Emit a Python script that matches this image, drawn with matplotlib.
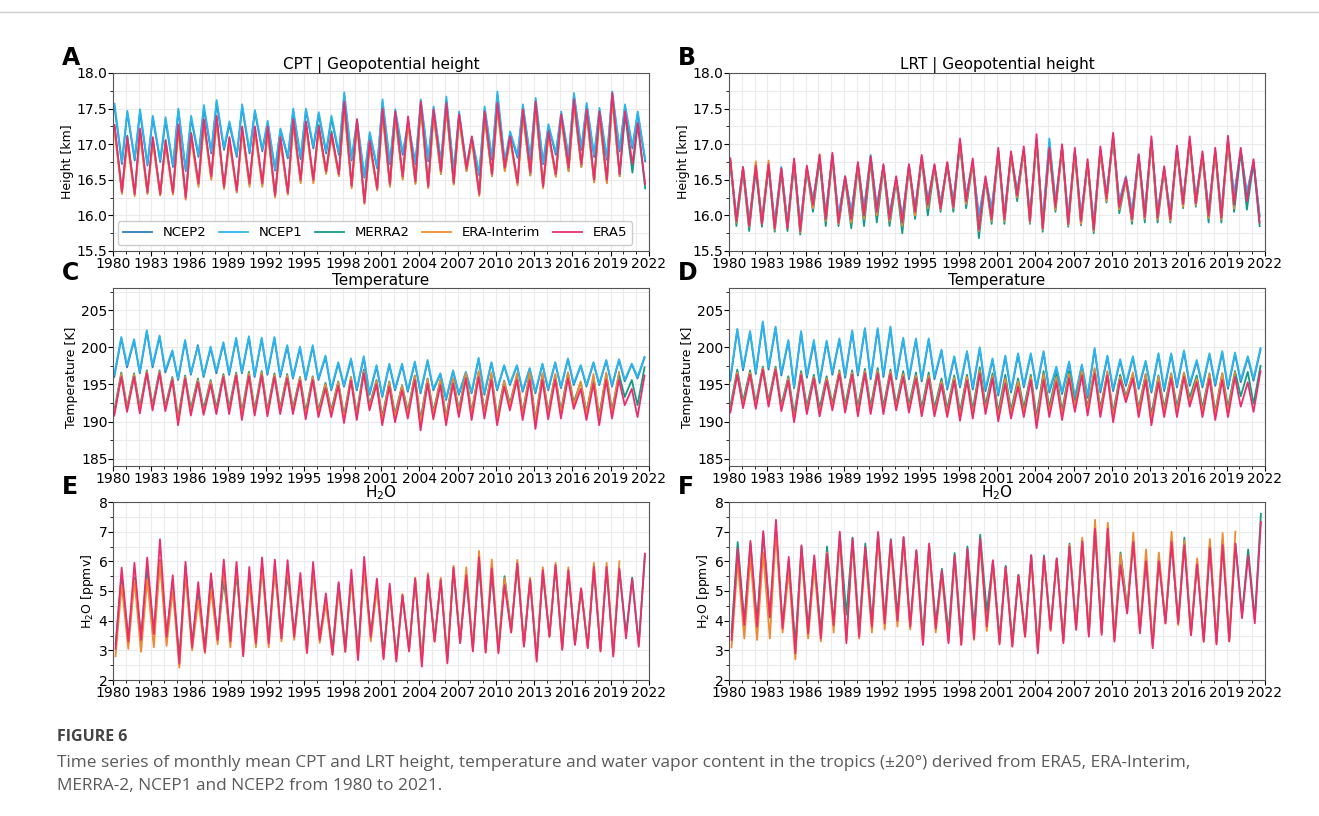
import numpy as np
import matplotlib.pyplot as plt
from matplotlib.lines import Line2D
from matplotlib.ticker import MultipleLocator, AutoMinorLocator

plt.rcParams["font.family"] = ["DejaVu Sans"]

# ---- seasonal maxima / minima per calendar year (1980-2021; ERA-Interim to 2019) ----
# A: CPT geopotential height [km]
cpt_z_ncep2_hi = [17.52,17.44,17.45,17.37,17.33,17.47,17.36,17.50,17.58,17.28,17.52,17.45,17.30,17.20,17.46,17.47,17.42,17.36,17.68,17.31,17.14,17.58,17.45,17.27,17.59,17.49,17.62,17.42,17.07,17.49,17.69,17.15,17.52,17.60,17.25,17.42,17.68,17.54,17.47,17.70,17.52,17.43]
cpt_z_ncep2_lo = [16.72,16.77,16.70,16.75,16.68,16.62,16.82,16.87,16.92,16.82,16.87,16.90,16.63,16.80,16.79,16.94,16.87,16.85,16.77,16.53,16.66,16.72,16.85,16.72,16.76,16.73,16.60,16.68,16.56,16.78,16.73,16.81,16.78,16.72,16.85,16.80,16.92,16.82,16.78,16.90,16.94,16.76]
cpt_z_ncep1_hi = [17.57,17.47,17.49,17.40,17.38,17.50,17.40,17.55,17.62,17.32,17.56,17.48,17.33,17.22,17.50,17.50,17.45,17.40,17.73,17.35,17.17,17.63,17.49,17.30,17.63,17.53,17.67,17.46,17.10,17.53,17.74,17.18,17.56,17.65,17.28,17.46,17.72,17.58,17.51,17.74,17.56,17.46]
cpt_z_ncep1_lo = [16.75,16.80,16.72,16.78,16.70,16.64,16.85,16.90,16.95,16.85,16.90,16.93,16.65,16.83,16.82,16.97,16.90,16.88,16.80,16.55,16.68,16.74,16.88,16.74,16.79,16.76,16.62,16.70,16.58,16.81,16.76,16.84,16.81,16.74,16.88,16.83,16.95,16.85,16.81,16.93,16.97,16.79]
cpt_z_merra2_hi = [17.25,17.12,17.20,17.08,17.06,17.25,17.16,17.33,17.37,17.08,17.22,17.22,17.20,17.08,17.32,17.30,17.27,17.18,17.55,17.30,17.02,17.45,17.40,17.35,17.55,17.44,17.52,17.38,17.08,17.40,17.52,17.10,17.45,17.55,17.15,17.38,17.58,17.44,17.40,17.66,17.42,17.28]
cpt_z_merra2_lo = [16.32,16.30,16.31,16.29,16.30,16.26,16.43,16.52,16.40,16.33,16.43,16.43,16.28,16.30,16.48,16.48,16.60,16.56,16.40,16.20,16.36,16.42,16.52,16.45,16.40,16.58,16.45,16.62,16.30,16.55,16.63,16.45,16.56,16.40,16.55,16.62,16.68,16.47,16.46,16.55,16.60,16.38]
cpt_z_eraint_hi = [17.18,17.02,17.12,17.02,16.98,17.20,17.08,17.28,17.32,17.02,17.18,17.18,17.16,17.02,17.28,17.25,17.20,17.10,17.50,17.28,16.98,17.42,17.38,17.30,17.52,17.40,17.50,17.34,17.05,17.38,17.50,17.06,17.42,17.52,17.12,17.36,17.56,17.42,17.38,17.64]
cpt_z_eraint_lo = [16.30,16.27,16.30,16.28,16.29,16.22,16.40,16.50,16.37,16.32,16.40,16.40,16.25,16.29,16.45,16.45,16.58,16.55,16.38,16.16,16.35,16.40,16.50,16.44,16.38,16.58,16.43,16.62,16.27,16.55,16.62,16.42,16.56,16.38,16.54,16.62,16.68,16.46,16.45,16.55]
cpt_z_era5_hi = [17.27,17.10,17.22,17.10,17.05,17.28,17.15,17.35,17.40,17.10,17.25,17.25,17.25,17.10,17.35,17.32,17.25,17.15,17.60,17.35,17.05,17.50,17.46,17.39,17.60,17.49,17.58,17.42,17.11,17.46,17.58,17.11,17.49,17.60,17.18,17.42,17.63,17.49,17.46,17.72,17.46,17.30]
cpt_z_era5_lo = [16.33,16.30,16.33,16.30,16.32,16.25,16.45,16.55,16.40,16.35,16.45,16.45,16.28,16.32,16.50,16.50,16.62,16.58,16.42,16.18,16.38,16.44,16.55,16.48,16.41,16.62,16.46,16.66,16.30,16.58,16.67,16.46,16.60,16.41,16.58,16.67,16.72,16.50,16.50,16.58,16.72,16.44]

# B: LRT geopotential height [km]
lrt_z_ncep2_hi = [16.73,16.66,16.66,16.70,16.65,16.74,16.64,16.78,16.83,16.53,16.70,16.82,16.68,16.50,16.68,16.80,16.68,16.70,17.00,16.72,16.50,16.88,16.83,16.90,17.03,17.02,16.93,16.88,16.72,16.90,17.08,16.53,16.83,17.03,16.64,16.92,17.03,16.84,16.88,17.03,16.90,16.74]
lrt_z_ncep2_lo = [15.96,15.90,15.93,15.88,15.88,15.86,16.20,16.00,15.98,16.03,16.08,16.10,16.00,15.96,16.08,16.20,16.16,16.18,16.26,15.98,16.08,16.00,16.33,15.98,15.90,16.18,15.96,15.98,15.88,16.28,16.18,16.03,16.04,16.03,16.00,16.20,16.23,16.06,16.03,16.28,16.30,15.98]
lrt_z_ncep1_hi = [16.75,16.68,16.68,16.72,16.68,16.76,16.66,16.80,16.85,16.55,16.72,16.85,16.70,16.52,16.70,16.82,16.70,16.72,17.02,16.75,16.52,16.90,16.85,16.92,17.05,17.08,16.95,16.90,16.74,16.92,17.10,16.55,16.85,17.05,16.66,16.94,17.05,16.86,16.90,17.05,16.92,16.76]
lrt_z_ncep1_lo = [15.98,15.92,15.95,15.90,15.90,15.88,16.22,16.02,16.00,16.05,16.10,16.12,16.02,15.98,16.10,16.22,16.18,16.20,16.28,16.00,16.10,16.02,16.35,16.00,15.92,16.20,15.98,16.00,15.90,16.30,16.20,16.05,16.06,16.05,16.02,16.22,16.25,16.08,16.05,16.30,16.32,16.00]
lrt_z_merra2_hi = [16.76,16.62,16.64,16.68,16.60,16.72,16.64,16.78,16.82,16.50,16.68,16.76,16.66,16.48,16.68,16.80,16.68,16.72,17.02,16.74,16.50,16.90,16.84,16.92,17.05,16.90,16.95,16.88,16.72,16.90,17.10,16.50,16.82,17.05,16.64,16.92,17.05,16.85,16.90,17.05,16.90,16.74]
lrt_z_merra2_lo = [15.85,15.78,15.84,15.77,15.78,15.73,16.05,15.85,15.85,15.82,15.85,15.90,15.85,15.75,15.95,16.00,16.05,16.05,16.10,15.68,15.88,15.88,16.20,15.88,15.77,16.05,15.84,15.86,15.75,16.18,16.03,15.88,15.90,15.90,15.90,16.10,16.12,15.90,15.90,16.05,16.08,15.85]
lrt_z_eraint_hi = [16.80,16.66,16.76,16.77,16.65,16.78,16.68,16.86,16.85,16.53,16.72,16.80,16.70,16.52,16.70,16.82,16.70,16.74,17.05,16.76,16.52,16.92,16.86,16.92,17.08,16.92,16.96,16.90,16.75,16.92,17.12,16.50,16.82,17.06,16.66,16.94,17.06,16.86,16.90,17.06]
lrt_z_eraint_lo = [15.90,15.84,15.88,15.80,15.82,15.76,16.10,15.92,15.88,15.90,15.95,16.00,15.92,15.85,16.00,16.10,16.08,16.10,16.16,15.78,15.92,15.92,16.25,15.90,15.80,16.08,15.86,15.88,15.78,16.20,16.08,15.92,15.95,15.94,15.92,16.12,16.14,15.96,15.94,16.10]
lrt_z_era5_hi = [16.80,16.68,16.70,16.72,16.66,16.80,16.70,16.85,16.88,16.55,16.75,16.83,16.72,16.55,16.72,16.85,16.72,16.75,17.08,16.80,16.55,16.95,16.90,16.97,17.14,16.95,17.00,16.95,16.79,16.97,17.16,16.53,16.86,17.11,16.69,16.98,17.11,16.90,16.95,17.12,16.95,16.79]
lrt_z_era5_lo = [15.92,15.85,15.88,15.82,15.82,15.78,16.15,15.95,15.90,15.95,16.00,16.05,15.95,15.90,16.05,16.15,16.10,16.12,16.20,15.80,15.95,15.95,16.28,15.92,15.82,16.12,15.88,15.92,15.80,16.24,16.12,15.95,15.98,15.97,15.95,16.16,16.17,16.00,15.97,16.15,16.20,15.90]

# C: CPT temperature [K]
cpt_t_ncep2_hi = [201.2,200.9,202.1,201.4,199.4,200.8,200.3,199.9,200.5,201.1,201.3,201.1,201.2,200.1,199.9,200.1,198.7,197.8,198.3,198.6,197.4,197.6,197.6,197.9,198.1,196.4,196.8,196.6,198.4,197.9,197.5,197.5,197.1,197.7,197.9,198.4,197.5,197.9,198.2,198.3,197.7,198.6]
cpt_t_ncep2_lo = [196.0,197.3,196.5,197.3,196.6,195.6,196.3,196.0,196.5,196.3,196.5,196.0,196.3,196.0,195.8,195.6,195.6,194.2,194.7,194.2,193.6,193.3,194.2,194.0,193.8,194.2,192.9,193.6,193.8,193.6,194.2,194.9,194.0,193.8,194.2,194.5,194.9,194.7,194.9,194.7,195.4,195.8]
cpt_t_ncep1_hi = [201.4,201.1,202.3,201.6,199.6,201.0,200.1,200.1,200.7,201.3,201.5,201.3,201.4,200.3,200.1,200.3,198.9,198.0,198.5,198.8,197.6,197.8,197.8,198.1,198.3,196.5,196.9,196.7,198.6,198.0,197.6,197.6,197.2,197.8,198.0,198.5,197.6,198.0,198.3,198.4,197.8,198.7]
cpt_t_ncep1_lo = [196.3,197.6,196.7,197.6,196.9,195.8,196.5,196.2,196.8,196.5,196.7,196.2,196.5,196.2,196.0,195.8,195.8,194.4,194.9,194.4,193.8,193.5,194.4,194.2,194.0,194.4,193.1,193.8,194.0,193.8,194.4,195.1,194.2,194.0,194.4,194.7,195.1,194.9,195.1,194.9,195.6,196.0]
cpt_t_merra2_hi = [196.6,196.5,196.9,196.9,196.0,196.2,195.8,195.6,196.4,196.6,196.7,196.8,196.5,196.4,196.0,196.1,195.2,195.4,196.0,197.0,195.6,195.4,194.9,196.2,195.8,195.6,195.8,196.4,196.6,196.3,195.5,196.2,196.4,196.3,196.3,196.6,195.3,195.9,196.4,196.4,195.6,197.3]
cpt_t_merra2_lo = [191.5,191.9,191.9,192.2,192.0,190.5,191.7,191.7,191.8,191.9,191.3,191.6,191.5,191.8,191.8,191.3,191.5,191.5,190.8,191.1,192.2,190.6,191.0,191.4,190.3,191.3,190.6,191.6,191.3,191.4,190.6,192.4,191.2,190.3,191.3,191.4,192.6,191.3,190.8,191.5,193.3,192.2]
cpt_t_eraint_hi = [196.4,196.3,196.7,196.7,195.8,196.0,195.6,195.4,196.2,196.4,196.5,196.6,196.3,196.2,195.9,196.0,195.0,195.3,195.9,196.8,195.5,195.3,194.8,196.2,195.7,195.6,195.8,196.5,196.8,196.6,195.4,196.5,196.6,196.5,196.4,196.6,195.4,196.4,196.6,196.7]
cpt_t_eraint_lo = [191.0,191.6,191.5,191.8,191.7,190.1,191.2,191.2,191.3,191.4,190.8,191.2,191.1,191.4,191.4,190.8,191.1,191.1,190.4,190.7,191.8,190.2,190.6,191.0,189.8,190.9,190.2,191.2,190.9,191.0,190.2,192.0,190.8,189.9,190.9,191.0,192.2,190.9,190.3,191.0]
cpt_t_era5_hi = [196.0,196.0,196.5,196.5,195.6,195.8,195.3,195.0,196.0,196.2,196.1,196.2,196.0,195.8,195.5,195.6,194.5,194.8,195.5,196.5,195.0,194.7,194.2,195.6,195.1,194.9,195.1,195.8,196.0,195.6,194.7,195.6,195.6,195.6,195.6,195.8,194.4,195.1,195.6,195.6,194.4,196.2]
cpt_t_era5_lo = [190.8,191.3,191.1,191.5,191.4,189.5,190.8,190.9,191.0,191.0,190.2,190.8,190.7,191.0,191.0,190.3,190.6,190.6,189.8,190.2,191.5,189.5,189.9,190.4,188.8,190.3,189.5,190.6,190.2,190.4,189.5,191.5,190.2,189.0,190.3,190.4,191.7,190.2,189.5,190.4,192.2,190.6]

# D: LRT temperature [K]
lrt_t_ncep2_hi = [202.3,202.0,203.3,202.6,200.8,202.0,200.6,200.7,201.0,202.1,202.4,202.4,202.6,201.1,201.0,201.0,199.5,198.6,199.3,199.8,198.3,198.7,199.0,199.0,199.3,197.2,197.9,197.5,199.7,198.7,198.2,198.6,198.0,199.0,199.0,199.4,198.1,199.0,199.3,199.1,198.6,199.7]
lrt_t_ncep2_lo = [195.5,196.9,196.4,197.0,196.2,194.5,195.9,195.2,196.3,195.9,196.2,195.7,196.0,195.7,195.7,195.4,195.7,194.3,194.6,194.3,194.1,193.5,193.9,194.6,194.4,193.9,193.7,193.0,193.2,193.9,194.1,194.8,194.4,193.9,194.1,194.6,194.8,194.6,194.8,194.4,195.3,195.5]
lrt_t_ncep1_hi = [202.5,202.2,203.5,202.8,201.0,202.2,201.0,200.9,201.2,202.3,202.6,202.6,202.8,201.3,201.2,201.2,199.7,198.8,199.5,200.0,198.5,198.9,199.2,199.2,199.5,197.4,198.1,197.7,199.9,198.9,198.4,198.8,198.2,199.2,199.2,199.6,198.3,199.2,199.5,199.3,198.8,199.9]
lrt_t_ncep1_lo = [195.8,197.2,196.7,197.3,196.5,194.7,196.2,195.5,196.6,196.2,196.5,196.0,196.3,196.0,196.0,195.7,196.0,194.6,194.9,194.6,194.4,193.8,194.2,194.9,194.7,194.2,194.0,193.3,193.5,194.2,194.4,195.1,194.7,194.2,194.4,194.9,195.1,194.9,195.1,194.7,195.6,195.8]
lrt_t_merra2_hi = [197.0,196.9,197.4,197.4,196.1,196.8,196.3,196.1,196.9,196.9,197.1,197.2,197.0,196.8,196.6,196.6,195.8,196.2,196.3,197.3,196.5,196.3,195.8,196.3,196.8,196.4,196.8,196.7,197.0,196.6,196.3,196.4,196.4,196.2,196.5,196.6,196.2,196.5,196.5,196.8,196.7,197.5]
lrt_t_merra2_lo = [192.0,192.7,192.5,192.8,192.2,191.0,192.0,191.8,192.4,192.2,191.9,192.0,192.0,192.3,192.2,191.8,191.8,191.7,191.3,191.6,192.2,191.3,191.5,191.8,190.6,191.9,191.4,192.4,191.9,191.8,191.2,193.4,191.8,190.9,191.8,191.9,193.2,191.8,191.3,191.9,193.4,192.4]
lrt_t_eraint_hi = [196.6,196.6,197.2,197.2,195.8,196.5,196.0,195.8,196.7,196.6,196.8,196.8,196.7,196.4,196.2,196.2,195.4,195.9,196.0,196.9,196.2,195.8,195.4,196.0,196.4,196.0,196.4,196.8,197.2,196.8,196.0,196.6,196.4,196.0,196.4,196.6,195.8,196.4,196.5,196.6]
lrt_t_eraint_lo = [191.4,192.1,192.0,192.3,191.7,190.3,191.4,191.1,191.9,191.6,191.2,191.4,191.4,191.8,191.6,191.1,191.2,191.1,190.6,190.9,191.5,190.6,190.9,191.1,189.8,191.2,190.8,191.9,191.4,191.2,190.6,193.0,191.2,190.2,191.2,191.2,192.5,191.2,190.8,191.2]
lrt_t_era5_hi = [196.3,196.3,197.0,197.0,195.5,196.3,195.8,195.5,196.4,196.3,196.5,196.5,196.4,196.0,195.8,195.8,195.0,195.5,195.5,196.5,195.8,195.1,194.7,195.6,195.6,195.3,195.8,196.2,196.5,196.2,195.6,195.8,195.6,195.3,195.8,196.0,195.3,195.8,195.6,196.0,195.3,196.8]
lrt_t_era5_lo = [191.2,191.8,191.7,192.0,191.4,189.9,191.0,190.7,191.5,191.2,190.7,191.0,191.0,191.5,191.2,190.7,190.7,190.6,190.1,190.4,191.0,190.0,190.4,190.6,189.1,190.6,190.2,191.3,190.8,190.6,189.9,192.6,190.6,189.5,190.6,190.6,192.0,190.6,190.2,190.6,192.0,191.3]

# E: CPT water vapour [ppmv]
cpt_q_merra2_hi = [5.55,5.45,5.75,6.05,5.20,5.85,5.00,5.45,5.35,5.60,5.45,5.90,5.70,5.55,5.35,5.75,4.65,5.25,5.50,5.80,5.15,5.00,4.80,5.35,5.50,5.35,5.70,5.45,5.90,5.60,5.50,5.85,5.40,5.60,5.80,5.65,5.05,5.70,5.75,5.70,5.45,6.20]
cpt_q_merra2_lo = [3.20,3.40,3.50,3.65,3.55,2.75,3.25,3.10,3.45,3.45,3.05,3.40,3.40,3.50,3.55,3.10,3.45,3.05,3.10,2.95,3.55,2.95,2.80,3.05,2.70,3.35,2.75,3.30,3.10,3.05,3.05,3.70,3.20,2.80,3.50,3.10,3.25,3.15,3.05,2.95,3.55,3.20]
cpt_q_eraint_hi = [5.20,5.35,5.40,6.00,5.05,5.55,4.70,5.05,5.75,5.85,5.30,5.85,5.75,5.80,5.40,5.70,4.60,5.05,5.40,5.75,5.10,5.05,4.90,5.45,5.60,5.45,5.85,5.80,6.35,6.06,5.45,6.05,5.45,5.80,5.95,5.80,5.10,5.95,5.95,6.00]
cpt_q_eraint_lo = [2.80,3.05,2.95,3.10,3.15,2.42,3.00,2.90,3.20,3.10,2.85,3.10,3.10,3.30,3.35,2.90,3.25,2.85,2.95,2.75,3.30,2.75,2.70,3.00,2.55,3.30,2.65,3.25,3.00,2.95,2.95,3.60,3.15,2.70,3.45,3.05,3.20,3.10,3.00,2.85]
cpt_q_era5_hi = [5.79,5.95,6.13,6.74,5.53,5.98,5.30,5.60,6.06,5.98,5.81,6.13,6.06,6.04,5.61,5.98,4.92,5.30,5.72,6.15,5.42,5.25,4.86,5.42,5.53,5.37,5.79,5.53,6.13,5.76,5.20,5.93,5.37,5.70,5.87,5.70,5.08,5.81,5.81,5.76,5.42,6.26]
cpt_q_era5_lo = [3.05,3.30,3.35,3.55,3.45,2.55,3.10,2.95,3.35,3.30,2.80,3.24,3.24,3.40,3.45,2.92,3.35,2.85,2.95,2.67,3.45,2.70,2.62,2.96,2.45,3.29,2.56,3.24,2.96,2.92,2.90,3.60,3.12,2.62,3.46,3.01,3.18,3.07,2.96,2.79,3.40,3.12]

# F: LRT water vapour [ppmv]
lrt_q_merra2_hi = [6.65,6.60,6.95,7.10,6.00,6.50,6.10,6.50,6.90,6.80,6.60,6.95,6.75,6.80,6.35,6.55,5.75,6.28,6.50,6.90,6.00,5.85,5.55,6.20,6.20,6.10,6.60,6.70,7.00,7.00,6.30,6.70,6.10,6.10,6.60,6.80,6.00,6.60,6.70,6.60,6.40,7.60]
lrt_q_merra2_lo = [3.60,3.95,3.95,4.10,3.85,3.20,3.75,3.60,3.90,4.20,3.70,3.95,4.05,4.20,3.85,3.50,3.90,3.60,3.40,3.75,4.30,3.40,3.30,3.55,3.05,3.75,3.35,3.75,3.55,3.60,3.40,4.45,3.70,3.20,3.95,3.95,3.55,3.35,3.30,3.40,4.20,4.05]
lrt_q_eraint_hi = [6.00,6.15,6.30,7.00,5.70,6.30,5.80,6.30,6.80,6.65,6.30,6.85,6.55,6.70,6.25,6.45,5.55,6.10,6.30,6.65,5.95,5.80,5.50,6.15,6.10,6.05,6.55,6.80,7.40,7.30,6.25,6.97,6.40,6.30,7.00,6.70,6.10,6.75,6.95,7.00]
lrt_q_eraint_lo = [3.10,3.40,3.35,3.40,3.60,2.70,3.40,3.30,3.60,3.35,3.40,3.60,3.70,3.80,3.70,3.20,3.60,3.30,3.20,3.35,3.65,3.25,3.15,3.45,3.00,3.65,3.30,3.70,3.55,3.60,3.35,4.30,3.65,3.15,3.90,3.85,3.55,3.30,3.25,3.30]
lrt_q_era5_hi = [6.43,6.69,7.02,7.40,6.15,6.54,6.20,6.26,7.00,6.77,6.48,6.99,6.71,6.82,6.38,6.60,5.70,6.20,6.43,6.77,6.04,5.81,5.53,6.21,6.15,6.10,6.49,6.66,7.10,7.10,5.87,6.65,6.00,6.00,6.65,6.54,5.90,6.45,6.55,6.60,6.20,7.33]
lrt_q_era5_lo = [3.35,3.85,3.80,4.13,3.74,2.90,3.57,3.40,3.85,3.24,3.46,3.80,3.91,4.00,3.80,3.18,3.74,3.24,3.18,3.40,3.80,3.20,3.12,3.46,2.90,3.69,3.24,3.69,3.46,3.52,3.29,4.24,3.57,3.07,3.91,3.91,3.50,3.29,3.20,3.30,4.08,3.91]

names = ["NCEP2", "NCEP1", "MERRA2", "ERA-Interim", "ERA5"]
colors = {"NCEP2": "#2a7fc0", "NCEP1": "#2bb6ee", "MERRA2": "#129b87",
          "ERA-Interim": "#f08a32", "ERA5": "#ec2d6c"}

# (panel letter, title, ylabel, ylim, ymajor, month of maximum, month of minimum, series)
panels = [
    ("A", "CPT | Geopotential height", "Height [km]", (15.5, 18.0), 0.5, 0.12, 0.70,
     {"NCEP2": (cpt_z_ncep2_hi, cpt_z_ncep2_lo), "NCEP1": (cpt_z_ncep1_hi, cpt_z_ncep1_lo),
      "MERRA2": (cpt_z_merra2_hi, cpt_z_merra2_lo), "ERA-Interim": (cpt_z_eraint_hi, cpt_z_eraint_lo),
      "ERA5": (cpt_z_era5_hi, cpt_z_era5_lo)}),
    ("B", "LRT | Geopotential height", "Height [km]", (15.5, 18.0), 0.5, 0.10, 0.58,
     {"NCEP2": (lrt_z_ncep2_hi, lrt_z_ncep2_lo), "NCEP1": (lrt_z_ncep1_hi, lrt_z_ncep1_lo),
      "MERRA2": (lrt_z_merra2_hi, lrt_z_merra2_lo), "ERA-Interim": (lrt_z_eraint_hi, lrt_z_eraint_lo),
      "ERA5": (lrt_z_era5_hi, lrt_z_era5_lo)}),
    ("C", "Temperature", "Temperature [K]", (184, 208), 5, 0.65, 0.10,
     {"NCEP2": (cpt_t_ncep2_hi, cpt_t_ncep2_lo), "NCEP1": (cpt_t_ncep1_hi, cpt_t_ncep1_lo),
      "MERRA2": (cpt_t_merra2_hi, cpt_t_merra2_lo), "ERA-Interim": (cpt_t_eraint_hi, cpt_t_eraint_lo),
      "ERA5": (cpt_t_era5_hi, cpt_t_era5_lo)}),
    ("D", "Temperature", "Temperature [K]", (184, 208), 5, 0.65, 0.10,
     {"NCEP2": (lrt_t_ncep2_hi, lrt_t_ncep2_lo), "NCEP1": (lrt_t_ncep1_hi, lrt_t_ncep1_lo),
      "MERRA2": (lrt_t_merra2_hi, lrt_t_merra2_lo), "ERA-Interim": (lrt_t_eraint_hi, lrt_t_eraint_lo),
      "ERA5": (lrt_t_era5_hi, lrt_t_era5_lo)}),
    ("E", "H$_2$O", "H$_2$O [ppmv]", (2, 8), 1, 0.68, 0.20,
     {"MERRA2": (cpt_q_merra2_hi, cpt_q_merra2_lo), "ERA-Interim": (cpt_q_eraint_hi, cpt_q_eraint_lo),
      "ERA5": (cpt_q_era5_hi, cpt_q_era5_lo)}),
    ("F", "H$_2$O", "H$_2$O [ppmv]", (2, 8), 1, 0.68, 0.20,
     {"MERRA2": (lrt_q_merra2_hi, lrt_q_merra2_lo), "ERA-Interim": (lrt_q_eraint_hi, lrt_q_eraint_lo),
      "ERA5": (lrt_q_era5_hi, lrt_q_era5_lo)}),
]


def seasonal_track(hi, lo, t_hi, t_lo):
    # put the yearly max and min at their month and sort along time
    yrs = 1980 + np.arange(len(hi))
    t = np.concatenate([yrs + t_hi, yrs + t_lo])
    v = np.concatenate([hi, lo])
    order = np.argsort(t)
    return t[order], v[order]


W, H = 1319, 816
fig = plt.figure(figsize=(W / 100, H / 100), dpi=100)

lefts = [113, 729]
tops = [73, 288, 502]
ax_w, ax_h = 536, 178

for i, (letter, title, ylabel, ylim, ymaj, t_hi, t_lo, series) in enumerate(panels):
    row, col = divmod(i, 2)
    x0, y0 = lefts[col], tops[row]
    ax = fig.add_axes([x0 / W, 1 - (y0 + ax_h) / H, ax_w / W, ax_h / H])
    for name in names:
        if name not in series:
            continue
        hi, lo = series[name]
        t, v = seasonal_track(hi, lo, t_hi, t_lo)
        ax.plot(t, v, color=colors[name], lw=1.3, label=name, solid_joinstyle="round")
    ax.set_xlim(1980, 2022)
    ax.set_ylim(*ylim)
    ax.xaxis.set_major_locator(MultipleLocator(3))
    ax.xaxis.set_minor_locator(MultipleLocator(1))
    ax.yaxis.set_major_locator(MultipleLocator(ymaj))
    ax.yaxis.set_minor_locator(AutoMinorLocator(2))
    if ylabel.startswith("Height"):
        ax.yaxis.set_major_formatter(plt.FormatStrFormatter("%.1f"))
    ax.grid(which="both", color="#ebebeb", lw=0.8)
    ax.set_axisbelow(True)
    ax.tick_params(labelsize=10, pad=0.5)
    ax.tick_params(which="minor", length=2)
    for s in ax.spines.values():
        s.set_color("#555555")
    ax.set_ylabel(ylabel, fontsize=9, labelpad=2)
    ax.set_title(title, fontsize=11, pad=1.5)
    fig.text((x0 - 51) / W, 1 - (y0 - 27) / H, letter, fontsize=17, fontweight="bold", va="top")
    if letter == "A":
        ax.legend(loc="lower left", bbox_to_anchor=(0.009, 0.035, 0.96, 0.13), mode="expand",
                  ncol=5, fontsize=9.5, handlelength=2.2, borderaxespad=0, framealpha=1,
                  edgecolor="#cccccc", fancybox=True)

fig.add_artist(Line2D([0, 1], [1 - 12 / H, 1 - 12 / H], color="#cfcfcf", lw=1))
fig.text(57 / W, 1 - 737 / H, "FIGURE 6", fontsize=11.5, fontweight="bold", color="#444444",
         family="Open Sans", va="center")
fig.text(57 / W, 1 - 763 / H,
         "Time series of monthly mean CPT and LRT height, temperature and water vapor content in the tropics (\u00b120\u00b0) derived from ERA5, ERA-Interim,",
         fontsize=12.4, color="#5a5a5a", family="Open Sans", va="center")
fig.text(57 / W, 1 - 786 / H, "MERRA-2, NCEP1 and NCEP2 from 1980 to 2021.",
         fontsize=12.4, color="#5a5a5a", family="Open Sans", va="center")

fig.savefig("out.png", dpi=100)
